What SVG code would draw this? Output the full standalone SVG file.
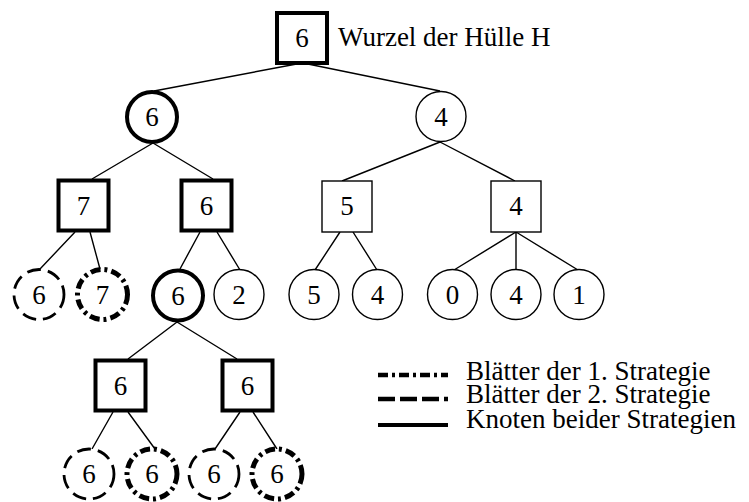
<svg xmlns="http://www.w3.org/2000/svg" width="749" height="502" viewBox="0 0 749 502">
<style>
.bg{fill:#fff}
.ln{stroke:#000;stroke-width:1.4;fill:none}
.thin{fill:#fff;stroke:#000;stroke-width:1.4}
.bold{fill:#fff;stroke:#000;stroke-width:4}
.s2{fill:#fff;stroke:#000;stroke-width:2.8;stroke-dasharray:14 7}
.s1{fill:#fff;stroke:#000;stroke-width:5;stroke-dasharray:10 4 3 4}
text{font-family:"Liberation Serif","Times New Roman",serif;font-size:27px;fill:#000}
.n{text-anchor:middle}
</style>
<rect class="bg" x="0" y="0" width="749" height="502"/>
<g id="connectors">
<path class="ln" d="M302 63L154 91M303 63L440 91"/>
<path class="ln" d="M153 143L92 179M153 143L213 179M440 142L342 181M440 142L515 181"/>
<path class="ln" d="M75 232L40 269M90 232L100 269M200 232L180 269M217 232L240 270M340 232L315 270M353 232L377 270M516 232L454 270M516 232L516 270M516 232L578 270"/>
<path class="ln" d="M177 322L128 359M177 322L237 359"/>
<path class="ln" d="M113 412L92 449M128 412L155 449M240 412L215 449M253 412L277 449"/>
</g>
<g id="root"><rect class="bold" x="277" y="13" width="50" height="50"/><text class="n" x="302" y="47">6</text></g>
<text id="root-label" x="338" y="46">Wurzel der Hülle H</text>
<g id="n1a"><circle class="bold" cx="152" cy="117" r="25"/><text class="n" x="152" y="126">6</text></g>
<g id="n1b"><circle class="thin" cx="441" cy="116.5" r="25"/><text class="n" x="441" y="126">4</text></g>
<g id="n2a"><rect class="bold" x="58.5" y="180.5" width="50" height="50"/><text class="n" x="83.5" y="215">7</text></g>
<g id="n2b"><rect class="bold" x="181.5" y="180.5" width="50" height="50"/><text class="n" x="206.5" y="215">6</text></g>
<g id="n2c"><rect class="thin" x="322" y="181" width="50" height="51"/><text class="n" x="347" y="215">5</text></g>
<g id="n2d"><rect class="thin" x="491" y="181" width="50" height="51"/><text class="n" x="516" y="215">4</text></g>
<g id="n3a"><circle class="s2" cx="39" cy="294.5" r="25"/><text class="n" x="39" y="304">6</text></g>
<g id="n3b"><circle class="s1" cx="102.5" cy="294.5" r="25"/><text class="n" x="102.5" y="304">7</text></g>
<g id="n3c"><circle class="bold" cx="178" cy="295.5" r="25"/><text class="n" x="178" y="305">6</text></g>
<g id="n3d"><circle class="thin" cx="239" cy="294.5" r="25"/><text class="n" x="239" y="304">2</text></g>
<g id="n3e"><circle class="thin" cx="314" cy="294.5" r="25"/><text class="n" x="314" y="304">5</text></g>
<g id="n3f"><circle class="thin" cx="377.5" cy="294.5" r="25"/><text class="n" x="377.5" y="304">4</text></g>
<g id="n3g"><circle class="thin" cx="452.5" cy="294.5" r="25"/><text class="n" x="452.5" y="304">0</text></g>
<g id="n3h"><circle class="thin" cx="516" cy="294.5" r="25"/><text class="n" x="516" y="304">4</text></g>
<g id="n3i"><circle class="thin" cx="579" cy="294.5" r="25"/><text class="n" x="579" y="304">1</text></g>
<g id="n4a"><rect class="bold" x="95.5" y="360.5" width="50" height="50"/><text class="n" x="120.5" y="395">6</text></g>
<g id="n4b"><rect class="bold" x="222.5" y="360.5" width="50" height="50"/><text class="n" x="247.5" y="395">6</text></g>
<g id="n5a"><circle class="s2" cx="89" cy="474" r="25"/><text class="n" x="89" y="483">6</text></g>
<g id="n5b"><circle class="s1" cx="152" cy="474" r="25"/><text class="n" x="152" y="483">6</text></g>
<g id="n5c"><circle class="s2" cx="214" cy="474" r="25"/><text class="n" x="214" y="483">6</text></g>
<g id="n5d"><circle class="s1" cx="277" cy="474" r="25"/><text class="n" x="277" y="483">6</text></g>
<g id="legend">
<line x1="378" y1="375" x2="448" y2="375" stroke="#000" stroke-width="4.5" stroke-dasharray="10 4 3 4"/>
<line x1="378" y1="399" x2="448" y2="399" stroke="#000" stroke-width="4.5" stroke-dasharray="17 5"/>
<line x1="378" y1="425" x2="448" y2="425" stroke="#000" stroke-width="4"/>
<text x="466" y="380">Blätter der 1. Strategie</text>
<text x="466" y="403">Blätter der 2. Strategie</text>
<text x="466" y="428">Knoten beider Strategien</text>
</g>
</svg>
